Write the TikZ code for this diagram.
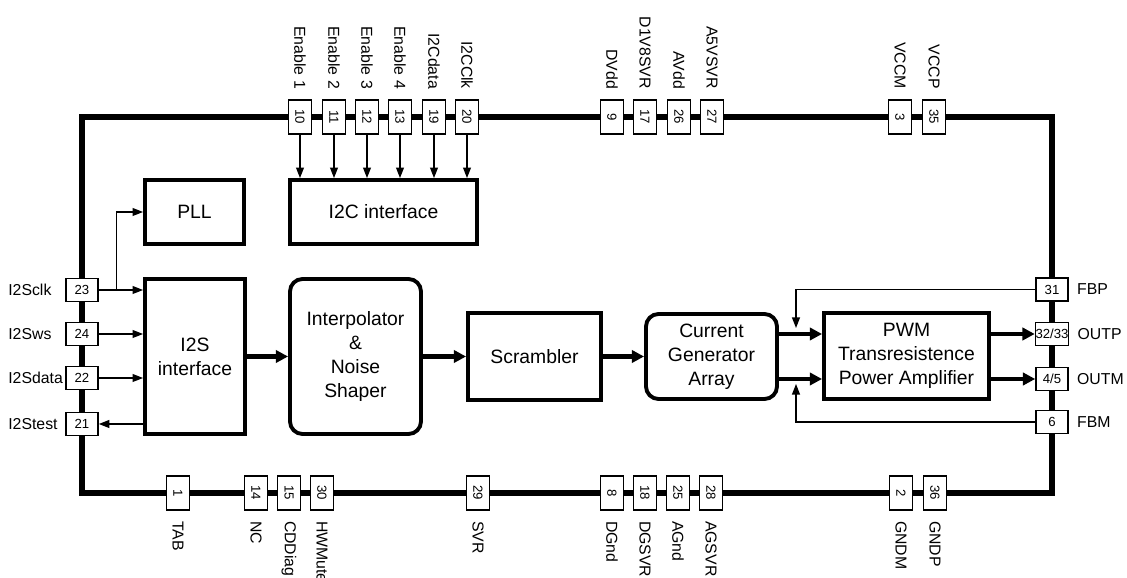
\documentclass[tikz,border=0pt]{standalone}
\usepackage{fontspec}
\setmainfont{Liberation Sans}
\usepackage{graphicx}
\usepackage{tikz}
\usetikzlibrary{arrows.meta, calc, positioning}

\begin{document}
\begin{tikzpicture}[
    >={Triangle[length=6pt, width=4.5pt]},
    frame/.style={line width=3.8pt},
    blk/.style={draw, line width=2.2pt, align=center, inner sep=0pt,
      font=\fontsize{11}{13.6}\selectfont},
    rblk/.style={blk, rounded corners=0.25cm},
    pinv/.style={draw, fill=white, line width=0.9pt, minimum width=0.46cm,
      minimum height=0.68cm, inner sep=0pt, font=\fontsize{7.5}{9}\selectfont},
    pinh/.style={pinv, minimum width=0.64cm, minimum height=0.46cm},
    lab/.style={inner sep=0pt, font=\fontsize{9}{11}\selectfont},
    vlab/.style={lab, rotate=-90},
    sig/.style={line width=0.7pt, ->},
    bus/.style={line width=2.4pt, -{Triangle[length=7pt, width=7pt]}},
  ]

  \useasboundingbox (0,0) rectangle (22.54,-11.56);

  % Package outline
  \draw[frame] (1.64,-2.34) rectangle (21.04,-9.86);

  % Pin macros: name, position, pin number, pin label
  \newcommand{\toppin}[4]{%
    \node[pinv] (#1) at (#2,-2.34) {\rotatebox{-90}{#3}};
    \node[vlab, anchor=east] (#1t) at ($(#1.north)+(0,0.2)$) {#4};
  }
  \newcommand{\botpin}[4]{%
    \node[pinv] (#1) at (#2,-9.86) {\rotatebox{-90}{#3}};
    \node[vlab, anchor=west] (#1t) at ($(#1.south)+(0,-0.2)$) {#4};
  }
  \newcommand{\lpin}[4]{%
    \node[pinh] (#1) at (1.64,#2) {#3};
    \node[lab, anchor=west] (#1t) at (0.16,#2) {#4};
  }
  \newcommand{\rpin}[4]{%
    \node[pinh] (#1) at (21.04,#2) {#3};
    \node[lab, right=0.16cm of #1] (#1t) {#4};
  }

  % --- top side ---
  \toppin{p10}{6.00}{10}{Enable 1}
  \toppin{p11}{6.68}{11}{Enable 2}
  \toppin{p12}{7.34}{12}{Enable 3}
  \toppin{p13}{8.00}{13}{Enable 4}
  \toppin{p19}{8.68}{19}{I2Cdata}
  \toppin{p20}{9.34}{20}{I2CClk}
  \toppin{p9}{12.24}{9}{DVdd}
  \toppin{p17}{12.90}{17}{D1V8SVR}
  \toppin{p26}{13.58}{26}{AVdd}
  \toppin{p27}{14.24}{27}{A5VSVR}
  \toppin{p3}{18.00}{3}{VCCM}
  \toppin{p35}{18.68}{35}{VCCP}

  % --- bottom side ---
  \botpin{p1}{3.56}{1}{TAB}
  \botpin{p14}{5.12}{14}{NC}
  \botpin{p15}{5.78}{15}{CDDiag}
  \botpin{p30}{6.44}{30}{HWMute}
  \botpin{p29}{9.56}{29}{SVR}
  \botpin{p8}{12.24}{8}{DGnd}
  \botpin{p18}{12.90}{18}{DGSVR}
  \botpin{p25}{13.56}{25}{AGnd}
  \botpin{p28}{14.22}{28}{AGSVR}
  \botpin{p2}{18.02}{2}{GNDM}
  \botpin{p36}{18.70}{36}{GNDP}

  % --- left and right sides ---
  \lpin{p23}{-5.80}{23}{I2Sclk}
  \lpin{p24}{-6.68}{24}{I2Sws}
  \lpin{p22}{-7.56}{22}{I2Sdata}
  \lpin{p21}{-8.48}{21}{I2Stest}
  \rpin{p31}{-5.79}{31}{FBP}
  \rpin{p32}{-6.68}{32/33}{OUTP}
  \rpin{p4}{-7.58}{4/5}{OUTM}
  \rpin{p6}{-8.44}{6}{FBM}

  % --- function blocks ---
  \node[blk, minimum width=1.98cm, minimum height=1.28cm] (pll) at (3.89,-4.24) {PLL};
  \node[blk, minimum width=3.74cm, minimum height=1.28cm] (i2c) at (7.67,-4.24) {I2C interface};
  \node[blk, minimum width=2.0cm, minimum height=3.1cm] (i2s) at (3.9,-7.13) {I2S\\interface};
  \node[rblk, minimum width=2.62cm, minimum height=3.1cm] (interp) at (7.11,-7.13)
    {Interpolator\\\&\\Noise\\Shaper};
  \node[blk, minimum width=2.66cm, minimum height=1.74cm] (scr) at (10.69,-7.13) {Scrambler};
  \node[rblk, minimum width=2.62cm, minimum height=1.70cm] (cga) at (14.23,-7.13)
    {Current\\Generator\\Array};
  \node[blk, minimum width=3.3cm, minimum height=1.72cm] (pwm) at (18.13,-7.12)
    {PWM\\Transresistence\\Power Amplifier};

  % --- control inputs ---
  \draw[sig] (p10.south) -- (p10.south |- i2c.north);
  \draw[sig] (p11.south) -- (p11.south |- i2c.north);
  \draw[sig] (p12.south) -- (p12.south |- i2c.north);
  \draw[sig] (p13.south) -- (p13.south |- i2c.north);
  \draw[sig] (p19.south) -- (p19.south |- i2c.north);
  \draw[sig] (p20.south) -- (p20.south |- i2c.north);

  \coordinate (clkbr) at ($(p23.east)+(0.36,0)$);
  \draw[sig] (p23.east) -- (p23 -| i2s.west);
  \draw[sig] (clkbr) |- (pll.west);
  \draw[sig] (p24.east) -- (p24 -| i2s.west);
  \draw[sig] (p22.east) -- (p22 -| i2s.west);
  \draw[sig] (p21 -| i2s.west) -- (p21.east);

  % --- data path ---
  \draw[bus] (i2s) -- (interp);
  \draw[bus] (interp) -- (scr);
  \draw[bus] (scr) -- (cga);
  \draw[bus] (cga.east |- p32) -- (pwm.west |- p32);
  \draw[bus] (cga.east |- p4) -- (pwm.west |- p4);
  \draw[bus] (pwm.east |- p32) -- (p32.west);
  \draw[bus] (pwm.east |- p4) -- (p4.west);

  % --- feedback ---
  \coordinate (fbpin) at (15.92,-6.56);
  \coordinate (fbmin) at (15.92,-7.68);
  \draw[sig] (p31.west) -| (fbpin);
  \draw[sig] (p6.west) -| (fbmin);

\end{tikzpicture}
\end{document}
